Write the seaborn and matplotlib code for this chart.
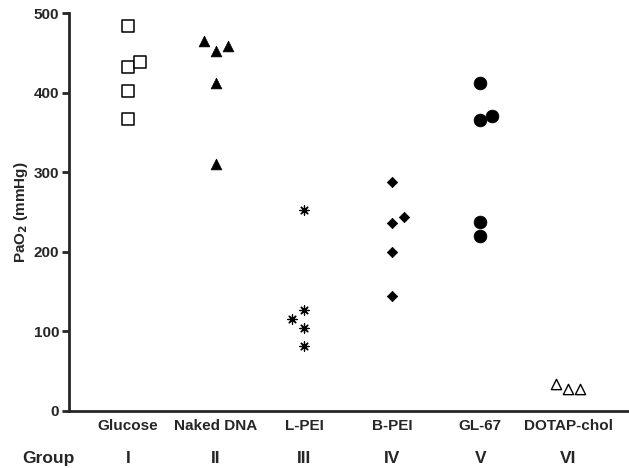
import pandas as pd
import matplotlib
matplotlib.use('Agg')
import matplotlib.pyplot as plt
import seaborn as sns

groups = ['Glucose', 'Naked DNA', 'L-PEI', 'B-PEI', 'GL-67', 'DOTAP-chol']
numerals = ['I', 'II', 'III', 'IV', 'V', 'VI']

# PaO2 per animal, with side column (-1 left, 0 centre, 1 right) as in the figure
glucose = [484, 432, 402, 367, 439]
glucose_col = [0, 0, 0, 0, 1]
naked_dna = [465, 453, 459, 412, 311]
naked_dna_col = [-1, 0, 1, 0, 0]
l_pei = [253, 127, 104, 82, 116]
l_pei_col = [0, 0, 0, 0, -1]
b_pei = [288, 236, 244, 200, 145]
b_pei_col = [0, 0, 1, 0, 0]
gl67 = [412, 366, 371, 237, 220]
gl67_col = [0, 0, 1, 0, 0]
dotap = [34, 28, 28]
dotap_col = [-1, 0, 1]

series = [(glucose, glucose_col), (naked_dna, naked_dna_col), (l_pei, l_pei_col),
          (b_pei, b_pei_col), (gl67, gl67_col), (dotap, dotap_col)]

rows = []
for i, (vals, cols) in enumerate(series):
    for v, c in zip(vals, cols):
        rows.append({'group': groups[i], 'x': i + 0.137 * c, 'pao2': v})
df = pd.DataFrame(rows)

sns.set_style('ticks')
plt.rcParams['font.family'] = ['Liberation Sans', 'DejaVu Sans']
plt.rcParams['font.weight'] = 'bold'

fig = plt.figure(figsize=(6.29, 4.68), dpi=100)
ax = fig.add_axes([69 / 629, 1 - 411 / 468, 1 - 69 / 629, (411 - 13.3) / 468])

styles = {
    'Glucose': dict(marker='s', s=70, facecolor='white', edgecolor='black', linewidth=1.1),
    'Naked DNA': dict(marker='^', s=60, facecolor='black', edgecolor='black', linewidth=0.5),
    'L-PEI': dict(marker=(8, 2, 0), s=45, facecolor='black', edgecolor='black', linewidth=0.9),
    'B-PEI': dict(marker='D', s=28, facecolor='black', edgecolor='black', linewidth=0.5),
    'GL-67': dict(marker='o', s=85, facecolor='black', edgecolor='black', linewidth=0.5),
    'DOTAP-chol': dict(marker='^', s=55, facecolor='white', edgecolor='black', linewidth=1.0),
}
for g in groups:
    sub = df[df['group'] == g]
    st = styles[g]
    sns.scatterplot(data=sub, x='x', y='pao2', ax=ax, marker=st['marker'], s=st['s'],
                    color=st['facecolor'], edgecolor=st['edgecolor'],
                    linewidth=st['linewidth'], legend=False, zorder=3)

ax.set_xlim(-0.67, 5.69)
ax.set_ylim(0, 500)
ax.set_yticks([0, 100, 200, 300, 400, 500])
ax.set_xticks([])
ax.set_xlabel('')
ax.set_ylabel('PaO$_\\mathbf{2}$ (mmHg)', fontsize=11, fontweight='bold', labelpad=3)
ax.tick_params(axis='y', direction='out', length=5, width=2, labelsize=11, pad=2)
for lab in ax.get_yticklabels():
    lab.set_fontweight('bold')
for sp in ['left', 'bottom']:
    ax.spines[sp].set_linewidth(2)
sns.despine(ax=ax)

for i, (g, n) in enumerate(zip(groups, numerals)):
    ax.annotate(g, xy=(i, 0), xycoords='data', xytext=(0, -10.5), textcoords='offset points',
                ha='center', va='center', fontsize=11, fontweight='bold')
    ax.annotate(n, xy=(i, 0), xycoords='data', xytext=(0, -34.5), textcoords='offset points',
                ha='center', va='center', fontsize=12.5, fontweight='bold')
fig.text(48 / 629, 1 - 459 / 468, 'Group', ha='center', va='center', fontsize=12.5, fontweight='bold')

fig.savefig('out.png', dpi=100)
